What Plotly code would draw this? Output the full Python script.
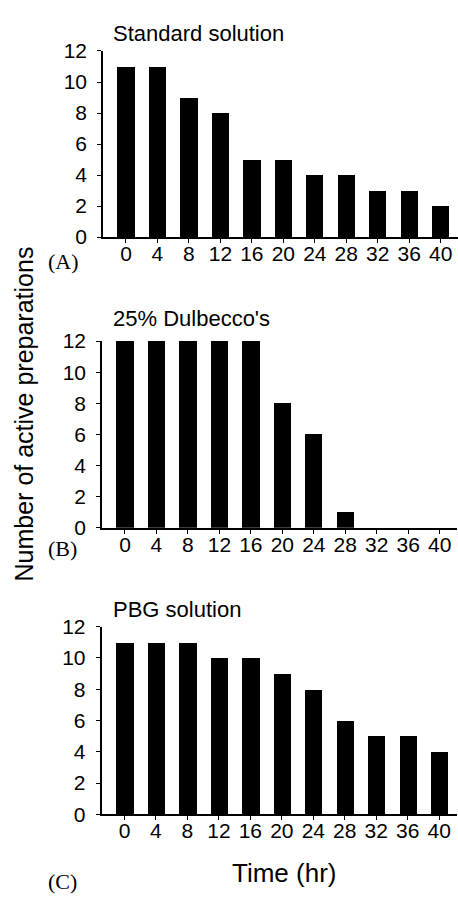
import plotly.graph_objects as go

W, H = 458, 903

times = [0, 4, 8, 12, 16, 20, 24, 28, 32, 36, 40]
tick_labels = [str(t) for t in times]
standard = [11, 11, 9, 8, 5, 5, 4, 4, 3, 3, 2]
dulbecco = [12, 12, 12, 12, 12, 8, 6, 1, 0, 0, 0]
pbg = [11, 11, 11, 10, 10, 9, 8, 6, 5, 5, 4]

panel_titles = ["Standard solution", "25% Dulbecco's", "PBG solution"]
panel_letters = ["(A)", "(B)", "(C)"]
series = [standard, dulbecco, pbg]

# pixel geometry of each panel: (left, right, top, bottom)
panels_px = [
    (103, 458, 40, 231),
    (102, 457, 337.7, 529.3),
    (101.5, 456.5, 630.7, 823.3),
]
title_y = [22, 315, 613]
letter_y = [256, 551, 892]

FONT = "Liberation Sans, Arial, sans-serif"

fig = go.Figure()
layout = dict(
    width=W, height=H,
    margin=dict(l=0, r=0, t=0, b=0),
    paper_bgcolor="white", plot_bgcolor="white",
    showlegend=False,
    bargap=0,
)
annotations = []

for i, (vals, (l, r, t, b)) in enumerate(zip(series, panels_px)):
    n = "" if i == 0 else str(i + 1)
    fig.add_trace(go.Bar(
        x=times, y=vals, width=2.2,
        marker=dict(color="black", line=dict(width=0)),
        xaxis="x" + n, yaxis="y" + n,
    ))
    layout["xaxis" + n] = dict(
        domain=[l / W, r / W], anchor="y" + n,
        range=[-2.92, 42.2],
        tickmode="array", tickvals=times, ticktext=tick_labels,
        showline=True, linecolor="black", linewidth=1.5,
        ticks="outside", ticklen=4, tickcolor="black", tickwidth=1,
        showgrid=False, zeroline=False,
        tickfont=dict(family=FONT, size=21, color="black"),
        ticklabelstandoff=-7,
    )
    layout["yaxis" + n] = dict(
        domain=[1 - b / H, 1 - t / H], anchor="x" + n,
        range=[0, 12],
        tickmode="array", tickvals=[0, 2, 4, 6, 8, 10, 12],
        showline=True, linecolor="black", linewidth=1.5,
        ticks="outside", ticklen=4, tickcolor="black", tickwidth=1,
        showgrid=False, zeroline=False,
        tickfont=dict(family=FONT, size=21, color="black"),
        ticklabelstandoff=6,
    )
    annotations.append(dict(
        text=panel_titles[i], x=111 / W, y=1 - title_y[i] / H,
        xref="paper", yref="paper", xanchor="left", yanchor="middle",
        showarrow=False, font=dict(family=FONT, size=22, color="black"),
    ))
    annotations.append(dict(
        text=panel_letters[i], x=46 / W, y=1 - letter_y[i] / H,
        xref="paper", yref="paper", xanchor="left", yanchor="middle",
        showarrow=False,
        font=dict(family="Liberation Serif, Times New Roman, serif", size=22, color="black"),
    ))

annotations.append(dict(
    text="Number of active preparations", x=24 / W, y=1 - 413 / H,
    xref="paper", yref="paper", xanchor="center", yanchor="middle",
    textangle=-90, showarrow=False,
    font=dict(family=FONT, size=25, color="black"),
))
annotations.append(dict(
    text="Time (hr)", x=284 / W, y=1 - 884 / H,
    xref="paper", yref="paper", xanchor="center", yanchor="middle",
    showarrow=False, font=dict(family=FONT, size=26, color="black"),
))
layout["annotations"] = annotations
fig.update_layout(**layout)
fig.write_html("out.html")
